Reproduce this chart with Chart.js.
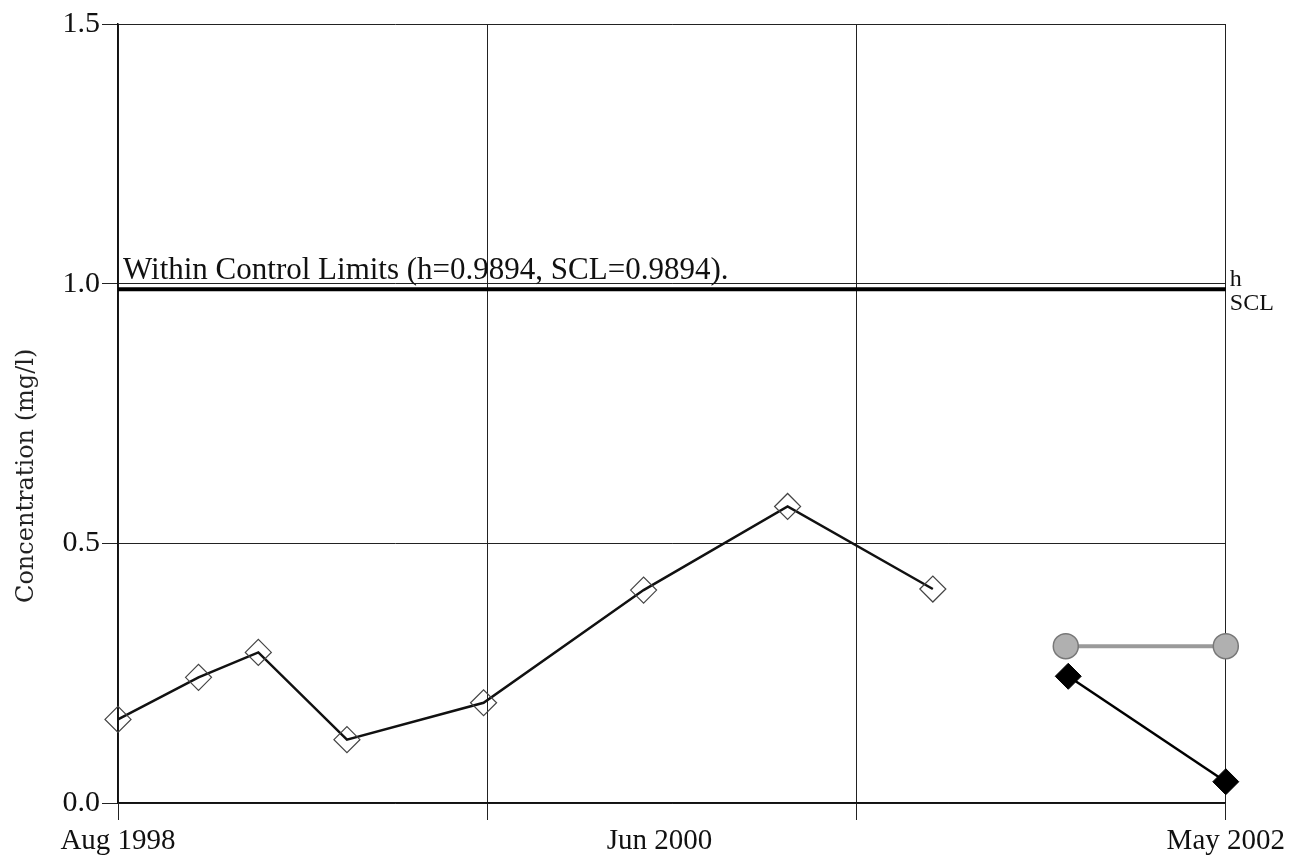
<!DOCTYPE html>
<html>
<head>
<meta charset="utf-8">
<script src="https://cdn.jsdelivr.net/npm/chart.js@4/dist/chart.umd.min.js"></script>
<style>
  html, body { margin: 0; padding: 0; background: #fff; }
  #wrap { width: 1289px; height: 862px; }
</style>
</head>
<body>
<div id="wrap"><canvas id="c" width="1289" height="862"></canvas></div>
<script>
// ---- data (x = months since Aug 1998) ----
const xMin = 0;
const xMax = 45;
const xTickValues = [0, 15, 22, 30, 45];
const xTickLabels = ['Aug 1998', '', 'Jun 2000', '', 'May 2002'];
const xGridHidden = [22];
const yTicks = [0, 0.5, 1.0, 1.5];

const obsX = [0, 3.27, 5.7, 9.3, 14.85, 21.35, 27.2, 33.1];
const obsY = [0.161, 0.242, 0.290, 0.122, 0.193, 0.410, 0.571, 0.412];

const grayX = [38.5, 45];
const grayY = [0.302, 0.302];

const solidX = [38.6, 45];
const solidY = [0.244, 0.041];

const hValue = 0.9894;
const sclValue = 0.9894;
const statusText = 'Within Control Limits (h=0.9894, SCL=0.9894).';
const yTitle = 'Concentration (mg/l)';

const pts = (xs, ys) => xs.map((x, i) => ({ x: x, y: ys[i] }));

const serif = "'Liberation Serif', 'Times New Roman', serif";

const annot = {
  id: 'annot',
  afterDatasetsDraw(chart) {
    const { ctx, scales } = chart;
    const xs = scales.x, ys = scales.y;
    ctx.save();
    ctx.fillStyle = '#111';
    ctx.font = "31px " + serif;
    ctx.textAlign = 'left';
    ctx.textBaseline = 'alphabetic';
    ctx.fillText(statusText, xs.getPixelForValue(xMin) + 5, ys.getPixelForValue(1.0) - 5);
    ctx.font = "24px " + serif;
    const rx = xs.getPixelForValue(xMax) + 4;
    ctx.fillText('h', rx, ys.getPixelForValue(hValue) - 3);
    ctx.fillText('SCL', rx, ys.getPixelForValue(sclValue) + 21);
    // y-axis title
    ctx.translate(27, ys.getPixelForValue(0.63));
    ctx.rotate(-Math.PI / 2);
    ctx.font = "24px 'DejaVu Serif', serif";
    ctx.fillStyle = '#222';
    ctx.textAlign = 'center';
    ctx.textBaseline = 'middle';
    ctx.fillText(yTitle, 0, 0);
    ctx.restore();
  }
};

const common = { showLine: true, clip: false };

new Chart(document.getElementById('c'), {
  type: 'scatter',
  data: {
    datasets: [
      Object.assign({
        label: 'h / SCL',
        data: [{ x: xMin, y: hValue }, { x: xMax, y: hValue }],
        borderColor: '#000',
        borderWidth: 4,
        pointRadius: 0
      }, common),
      Object.assign({
        label: 'Observed',
        data: pts(obsX, obsY),
        borderColor: '#111',
        borderWidth: 2.5,
        pointStyle: 'rectRot',
        pointRadius: 13,
        pointBackgroundColor: 'rgba(255,255,255,0)',
        pointBorderColor: '#444',
        pointBorderWidth: 1.2
      }, common),
      Object.assign({
        label: 'Gray',
        data: pts(grayX, grayY),
        borderColor: '#9a9a9a',
        borderWidth: 4,
        pointStyle: 'circle',
        pointRadius: 12.5,
        pointBackgroundColor: '#b0b0b0',
        pointBorderColor: '#777',
        pointBorderWidth: 1.5
      }, common),
      Object.assign({
        label: 'Solid',
        data: pts(solidX, solidY),
        borderColor: '#000',
        borderWidth: 2.5,
        pointStyle: 'rectRot',
        pointRadius: 13,
        pointBackgroundColor: '#000',
        pointBorderColor: '#000',
        pointBorderWidth: 1
      }, common)
    ]
  },
  options: {
    responsive: false,
    animation: false,
    layout: { padding: { top: 24, right: 62, left: 0, bottom: 0 } },
    plugins: { legend: { display: false }, tooltip: { enabled: false } },
    scales: {
      x: {
        type: 'linear',
        min: xMin,
        max: xMax,
        afterBuildTicks(scale) { scale.ticks = xTickValues.map(v => ({ value: v })); },
        afterFit(scale) { scale.height = 59; },
        border: { display: true, color: '#111', width: 1.5 },
        grid: {
          color: ctx => (ctx.tick && xGridHidden.includes(ctx.tick.value)) ? 'rgba(0,0,0,0)' : '#222',
          lineWidth: 1,
          tickLength: 17,
          drawTicks: true
        },
        ticks: {
          autoSkip: false,
          maxRotation: 0,
          padding: 4,
          color: '#111',
          font: { family: serif, size: 29 },
          callback: (v) => { const i = xTickValues.indexOf(v); return i >= 0 ? xTickLabels[i] : ''; }
        }
      },
      y: {
        min: 0,
        max: 1.5,
        afterBuildTicks(scale) { scale.ticks = yTicks.map(v => ({ value: v })); },
        afterFit(scale) { scale.width = 118; },
        border: { display: true, color: '#111', width: 1.5 },
        grid: { color: '#222', lineWidth: 1, tickLength: 16 },
        ticks: {
          padding: 2,
          color: '#111',
          font: { family: serif, size: 30 },
          callback: (v) => v.toFixed(1)
        },
        title: { display: false }
      }
    }
  },
  plugins: [annot]
});
</script>
</body>
</html>
